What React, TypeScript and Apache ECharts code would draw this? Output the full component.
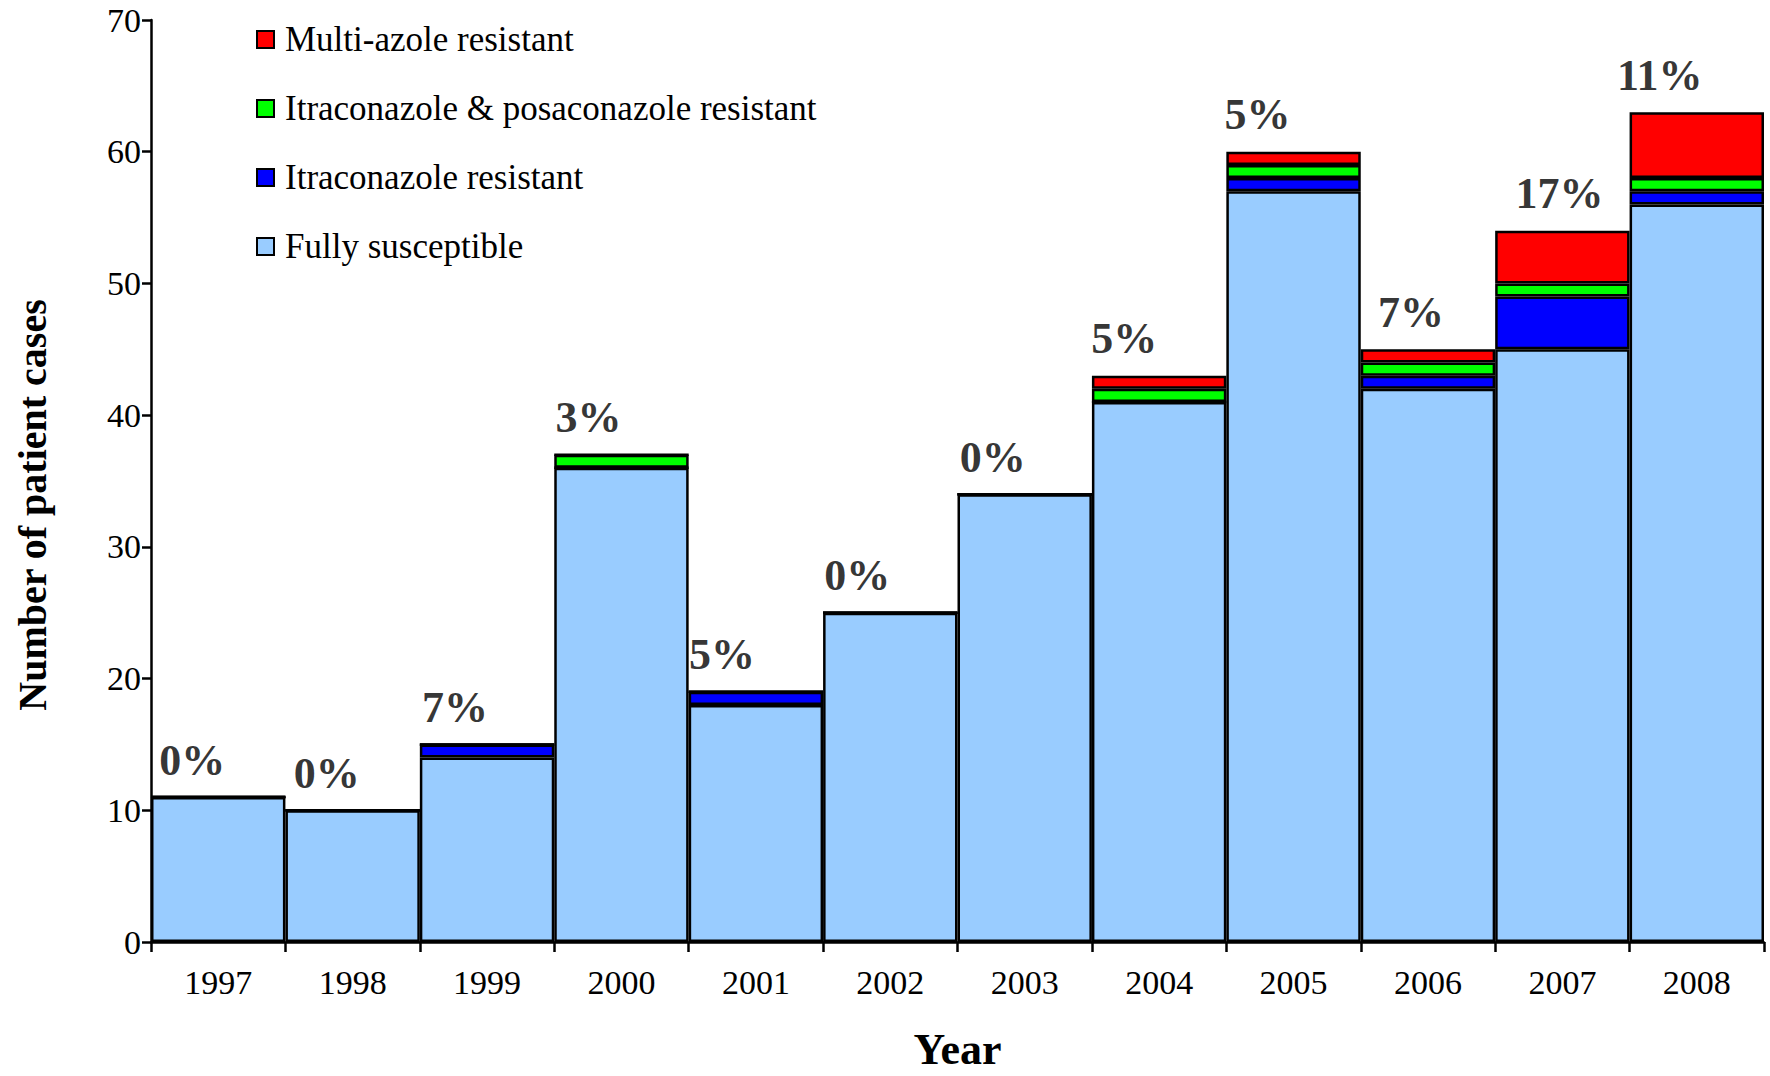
import React, { useEffect, useRef } from "react";
import * as echarts from "echarts";

const years = ["1997", "1998", "1999", "2000", "2001", "2002", "2003", "2004", "2005", "2006", "2007", "2008"];
const fullySusceptible = [11, 10, 14, 36, 18, 25, 34, 41, 57, 42, 45, 56];
const itraResistant = [0, 0, 1, 0, 1, 0, 0, 0, 1, 1, 4, 1];
const itraPosaResistant = [0, 0, 0, 1, 0, 0, 0, 1, 1, 1, 1, 1];
const multiAzoleResistant = [0, 0, 0, 0, 0, 0, 0, 1, 1, 1, 4, 5];
const percentLabels = ["0%", "0%", "7%", "3%", "5%", "0%", "0%", "5%", "5%", "7%", "17%", "11%"];
const yTicks = [0, 10, 20, 30, 40, 50, 60, 70];

// horizontal nudges (px) of the percentage labels, as placed in the original figure
const labelNudgeX = [-26, -26, -32, -33, -34, -33, -32, -35, -36, -17, -3, -37];

const FONT = "'Liberation Serif', 'Times New Roman', serif";

export default function App() {
  const ref = useRef<HTMLDivElement>(null);
  useEffect(() => {
    if (!ref.current) return;
    const chart = echarts.init(ref.current, null, { renderer: "svg" });
    const totals = years.map(
      (_, i) => fullySusceptible[i] + itraResistant[i] + itraPosaResistant[i] + multiAzoleResistant[i]
    );
    const mk = (name: string, data: number[], color: string) => ({
      name,
      type: "bar",
      stack: "total",
      data,
      barCategoryGap: "0%",
      itemStyle: { color, borderColor: "#000", borderWidth: 2.5 },
    });
    chart.setOption({
      animation: false,
      backgroundColor: "#fff",
      textStyle: { fontFamily: FONT },
      grid: { left: 151, right: 6, top: 20, bottom: 122 },
      graphic: [
        {
          type: "text",
          x: 32,
          y: 505,
          rotation: Math.PI / 2,
          style: {
            text: "Number of patient cases",
            font: `bold 40px ${FONT}`,
            fill: "#000",
            textAlign: "center",
            textVerticalAlign: "middle",
          },
        },
      ],
      legend: {
        orient: "vertical",
        left: 251,
        top: 17,
        itemGap: 34,
        itemWidth: 17,
        itemHeight: 17,
        icon: "rect",
        textStyle: { fontFamily: FONT, fontSize: 35, color: "#000", padding: [0, 0, 0, 6] },
        data: [
          "Multi-azole resistant",
          "Itraconazole & posaconazole resistant",
          "Itraconazole resistant",
          "Fully susceptible",
        ],
      },
      xAxis: {
        type: "category",
        data: years,
        name: "Year",
        nameLocation: "middle",
        nameGap: 85,
        nameTextStyle: { fontFamily: FONT, fontSize: 44, fontWeight: "bold", color: "#000" },
        axisLine: { lineStyle: { color: "#000", width: 2.5 } },
        axisTick: { show: true, length: 10, lineStyle: { color: "#000", width: 2.5 } },
        axisLabel: { fontFamily: FONT, fontSize: 34, color: "#000", margin: 23 },
      },
      yAxis: {
        type: "value",
        min: 0,
        max: 70,
        interval: 10,
        splitLine: { show: false },
        axisLine: { show: true, lineStyle: { color: "#000", width: 2.5 } },
        axisTick: { show: true, length: 9, lineStyle: { color: "#000", width: 2.5 } },
        axisLabel: {
          fontFamily: FONT,
          fontSize: 34,
          color: "#000",
          margin: 10,
          formatter: (v: number) => (yTicks.includes(v) ? String(v) : ""),
        },
      },
      series: [
        mk("Fully susceptible", fullySusceptible, "#99CCFF"),
        mk("Itraconazole resistant", itraResistant, "#0000FF"),
        mk("Itraconazole & posaconazole resistant", itraPosaResistant, "#00FF00"),
        mk("Multi-azole resistant", multiAzoleResistant, "#FF0000"),
        {
          name: "pct",
          type: "scatter",
          data: totals.map((v, i) => ({
            value: v,
            label: { offset: [labelNudgeX[i], -10] },
          })),
          symbolSize: 0,
          silent: true,
          label: {
            show: true,
            position: "top",
            fontFamily: FONT,
            fontSize: 44,
            fontWeight: "bold",
            color: "#000",
            formatter: (p: any) => percentLabels[p.dataIndex],
          },
        },
      ],
    });
    return () => chart.dispose();
  }, []);
  return (
    <div
      ref={ref}
      style={{ position: "absolute", left: 0, top: 0, width: 1770, height: 1076 }}
    />
  );
}
